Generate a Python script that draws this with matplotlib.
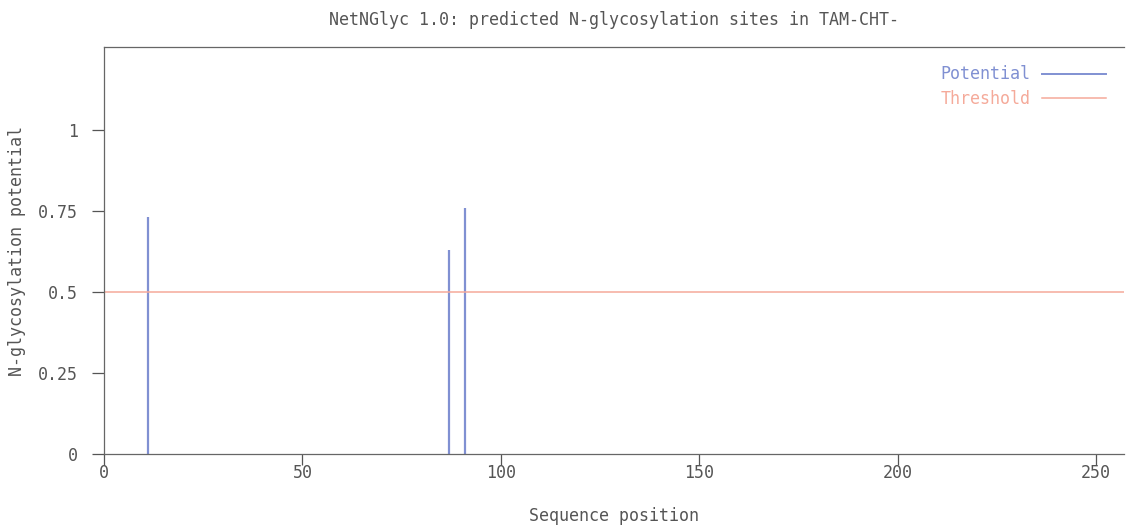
import matplotlib
matplotlib.use("Agg")
import matplotlib.pyplot as plt
from matplotlib.lines import Line2D

positions = [11, 87, 91]
potentials = [0.73, 0.63, 0.76]
threshold = 0.5
xmax = 257
xticks = [0, 50, 100, 150, 200, 250]
yticks = [0, 0.25, 0.5, 0.75, 1]
ytick_labels = ["0", "0.25", "0.5", "0.75", "1"]

blue = "#8090d2"
salmon = "#f5aa9a"
txt = "#555555"
fs = 12

plt.rcParams['font.family'] = ['DejaVu Sans Mono']
fig = plt.figure(figsize=(11.29, 5.26), dpi=100)
ax = fig.add_axes([0.0921, 0.1369, 0.9035, 0.7737])

ax.vlines(positions, 0, potentials, color=blue, lw=1.6)
ax.axhline(threshold, color=salmon, lw=1.1)

ax.set_xlim(0, xmax)
ax.set_ylim(0, 1.256)
ax.set_xticks(xticks)
ax.set_xticklabels([str(t) for t in xticks])
ax.set_yticks(yticks)
ax.set_yticklabels(ytick_labels)
ax.tick_params(colors=txt, labelsize=fs, length=9, width=0.9, direction='out')
ax.tick_params(axis='y', pad=10)
ax.tick_params(axis='x', pad=-1, length=8)
for s in ['left', 'bottom', 'top']:
    ax.spines[s].set_color("#666666")
    ax.spines[s].set_linewidth(0.9)
ax.spines['right'].set_visible(False)

ax.set_xlabel("Sequence position", color=txt, fontsize=fs, labelpad=18)
ax.set_ylabel("N-glycosylation potential", color=txt, fontsize=fs, labelpad=8)
ax.set_title("NetNGlyc 1.0: predicted N-glycosylation sites in TAM-CHT-",
             color=txt, fontsize=fs, pad=16)

handles = [Line2D([], [], color=blue, lw=1.4), Line2D([], [], color=salmon, lw=1.1)]
leg = ax.legend(handles, ["Potential", "Threshold"], loc="upper right", frameon=False,
                markerfirst=False, fontsize=fs, handlelength=3.8,
                borderaxespad=0.7, handletextpad=0.7, labelspacing=0.38)
for t, c in zip(leg.get_texts(), [blue, salmon]):
    t.set_color(c)

fig.savefig("out.png", dpi=100)
